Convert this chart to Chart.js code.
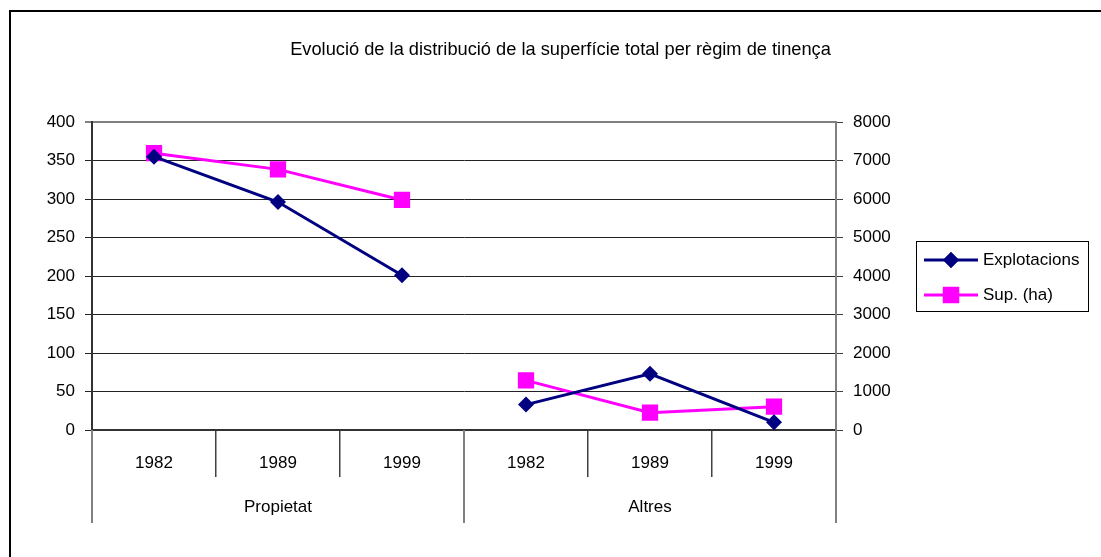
<!DOCTYPE html>
<html>
<head>
<meta charset="utf-8">
<script src="https://cdn.jsdelivr.net/npm/chart.js@4.4.0/dist/chart.umd.min.js"></script>
<style>
	html, body { margin: 0; padding: 0; background: #fff; overflow: hidden; }
	.frame { position: absolute; left: 9px; top: 10px; width: 1200px; height: 700px; border-left: 2px solid #000; border-top: 2px solid #000; }
	canvas { position: absolute; left: 0; top: 0; }
</style>
</head>
<body>
<div class="frame"></div>
<canvas id="myChart" width="1101" height="557"></canvas>
<script>
/* Data */
const chartTitle = 'Evolució de la distribució de la superfície total per règim de tinença'
const years = ['1982', '1989', '1999', '1982', '1989', '1999']
const groups = ['Propietat', 'Altres']
const explotacions = [355, 296, 201, 33, 73, 10]
const superficie = [7190, 6770, 5975, 1290, 450, 605]
const leftTicks = { min: 0, max: 400, step: 50 }
const rightTicks = { min: 0, max: 8000, step: 1000 }

const FONT = "'Liberation Sans', Arial, sans-serif"
const SIZE = 17
Chart.defaults.font.family = FONT
Chart.defaults.color = '#000'

// no line between the two groups
const groupGap = ctx => (ctx.p0DataIndex === 2 ? 'transparent' : undefined)

/* Second row of category labels (Propietat / Altres) */
const groupRow = {
	id: 'groupRow',
	afterDraw(chart) {
		const { ctx, scales: { x }, chartArea } = chart
		const per = years.length / groups.length
		const step = x.width / years.length
		ctx.save()
		ctx.strokeStyle = '#808080'
		ctx.lineWidth = 2
		for (let g = 0; g <= groups.length; g++) {
			const px = Math.round(x.left + g * per * step)
			ctx.beginPath()
			ctx.moveTo(px, chartArea.bottom)
			ctx.lineTo(px, chartArea.bottom + 93)
			ctx.stroke()
		}
		ctx.fillStyle = '#000'
		ctx.font = SIZE + 'px ' + FONT
		ctx.textAlign = 'center'
		ctx.textBaseline = 'middle'
		groups.forEach((name, g) => {
			const cx = x.left + (g + 0.5) * per * step
			ctx.fillText(name, cx, chartArea.bottom + 77)
		})
		ctx.restore()
	},
}

/* Boxed legend with line + marker */
const boxLegend = {
	id: 'boxLegend',
	afterDraw(chart) {
		const { ctx, chartArea } = chart
		const left = chartArea.right + 80
		const top = chartArea.top + 119
		ctx.save()
		ctx.strokeStyle = '#000'
		ctx.lineWidth = 1
		ctx.strokeRect(left + 0.5, top + 0.5, 172, 70)
		chart.data.datasets.forEach((ds, i) => {
			const y = top + 19 + i * 35
			ctx.strokeStyle = ds.borderColor
			ctx.lineWidth = 3
			ctx.beginPath()
			ctx.moveTo(left + 8, y)
			ctx.lineTo(left + 62, y)
			ctx.stroke()
			ctx.fillStyle = ds.pointBackgroundColor
			Chart.helpers.drawPoint(ctx, { pointStyle: ds.pointStyle, radius: ds.pointRadius, rotation: 0, borderWidth: 0 }, left + 35, y)
			ctx.fill()
			ctx.fillStyle = '#000'
			ctx.font = SIZE + 'px ' + FONT
			ctx.textAlign = 'left'
			ctx.textBaseline = 'middle'
			ctx.fillText(ds.label, left + 67, y)
		})
		ctx.restore()
	},
}

const plain = v => String(v)

const ctx = document.getElementById('myChart')

new Chart(ctx, {
	type: 'line',
	data: {
		labels: years,
		datasets: [
			{
				label: 'Explotacions',
				data: explotacions,
				yAxisID: 'y',
				borderColor: '#000080',
				backgroundColor: '#000080',
				pointBackgroundColor: '#000080',
				pointBorderWidth: 0,
				borderWidth: 3,
				pointStyle: 'rectRot',
				pointRadius: 8,
				segment: { borderColor: groupGap },
			},
			{
				label: 'Sup. (ha)',
				data: superficie,
				yAxisID: 'y1',
				borderColor: '#ff00ff',
				backgroundColor: '#ff00ff',
				pointBackgroundColor: '#ff00ff',
				pointBorderWidth: 0,
				borderWidth: 3,
				pointStyle: 'rect',
				pointRadius: 11.5,
				segment: { borderColor: groupGap },
			},
		],
	},
	options: {
		responsive: false,
		animation: false,
		layout: { padding: { left: 20 } },
		plugins: {
			legend: { display: false },
			tooltip: { enabled: false },
			title: {
				display: true,
				text: chartTitle,
				color: '#000',
				font: { size: 18.25, weight: 'normal', lineHeight: 1.2 },
				padding: { top: 39, bottom: 61.1 },
			},
		},
		scales: {
			x: {
				offset: true,
				afterFit(scale) { scale.height = 127 },
				border: { color: '#333', width: 2 },
				grid: { offset: true, drawOnChartArea: false, color: '#404040', lineWidth: 1.5, tickLength: 47 },
				ticks: { font: { size: SIZE }, color: '#000', padding: -24, maxRotation: 0 },
			},
			y: {
				position: 'left',
				min: leftTicks.min,
				max: leftTicks.max,
				afterFit(scale) { scale.width = 72 },
				border: { color: '#333', width: 2 },
				grid: {
					color: c => (c.tick && c.tick.value === leftTicks.max ? '#808080' : '#222'),
					lineWidth: c => (c.tick && c.tick.value === leftTicks.max ? 2 : 1),
					tickLength: 7,
				},
				ticks: { stepSize: leftTicks.step, font: { size: SIZE }, color: '#000', padding: 10, callback: plain },
			},
			y1: {
				position: 'right',
				min: rightTicks.min,
				max: rightTicks.max,
				afterFit(scale) { scale.width = 265 },
				border: { color: '#808080', width: 2 },
				grid: { drawOnChartArea: false, color: '#404040', tickLength: 7 },
				ticks: { stepSize: rightTicks.step, font: { size: SIZE }, color: '#000', padding: 10, callback: plain },
			},
		},
	},
	plugins: [groupRow, boxLegend],
})
</script>
</body>
</html>
